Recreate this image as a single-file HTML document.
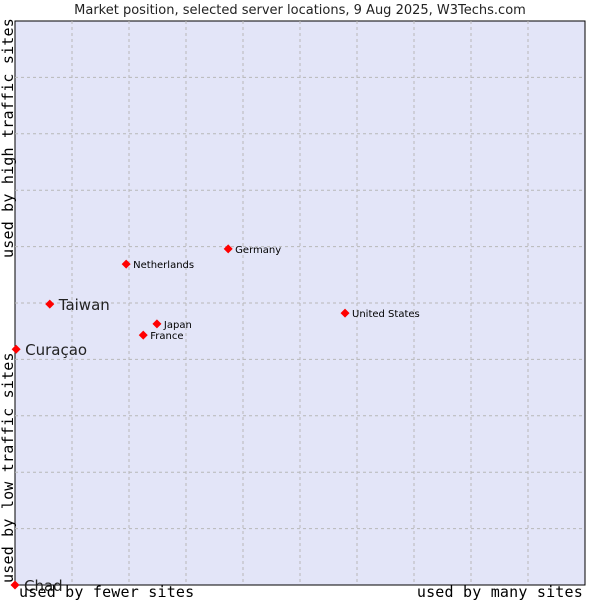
<!DOCTYPE html>
<html><head><meta charset="utf-8"><style>
body{margin:0;background:#fff;}
svg text{font-family:"DejaVu Sans","Liberation Sans",sans-serif;}
.mono{font-family:"DejaVu Sans Mono","Liberation Mono",monospace;letter-spacing:0.2px;}
</style></head><body>
<svg id="chart" width="600" height="600">
<text x="300" y="14" text-anchor="middle" font-size="13" fill="#222">Market position, selected server locations, 9 Aug 2025, W3Techs.com</text>
<rect x="15" y="21" width="570" height="564" fill="#e3e5f8" stroke="#000" stroke-width="1"/>
<g id="grid"></g>
<g id="points"></g>
<text class="mono" x="19" y="597" font-size="15">used by fewer sites</text>
<text class="mono" x="583" y="597" font-size="15" text-anchor="end">used by many sites</text>
<text class="mono" transform="translate(13,258) rotate(-90)" font-size="15">used by high traffic sites</text>
<text class="mono" transform="translate(13,583) rotate(-90)" font-size="15">used by low traffic sites</text>
</svg>
<script>
const names=["Chad","Curaçao","Taiwan","Netherlands","Germany","Japan","France","United States"];
const xVals=[0,0.2,6.1,19.5,37.4,24.9,22.5,57.9];
const yVals=[0,41.8,49.8,56.9,59.6,46.3,44.3,48.2];
const bigLabel=[true,true,true,false,false,false,false,false];
const L=15,T=21,W=570,H=564;
const sx=v=>L+v/100*W, sy=v=>T+H-v/100*H;
const ns="http://www.w3.org/2000/svg";
const grid=document.getElementById('grid'), pts=document.getElementById('points');
for(let i=1;i<10;i++){
  const v=document.createElementNS(ns,'line');
  
  
  v.setAttribute('x1',sx(i*10));v.setAttribute('x2',sx(i*10));v.setAttribute('y1',T);v.setAttribute('y2',T+H);
  v.setAttribute('stroke','#b8b8b8');v.setAttribute('stroke-dasharray','3,3');grid.appendChild(v);
  const h=document.createElementNS(ns,'line');
  
  
  h.setAttribute('y1',sy(i*10));h.setAttribute('y2',sy(i*10));h.setAttribute('x1',L);h.setAttribute('x2',L+W);
  h.setAttribute('stroke','#b8b8b8');h.setAttribute('stroke-dasharray','3,3');grid.appendChild(h);
}
names.forEach((n,i)=>{
  const x=sx(xVals[i]),y=sy(yVals[i]);
  const p=document.createElementNS(ns,'polygon');
  
  
  p.setAttribute('points',`${x},${y-4.5} ${x+4.5},${y} ${x},${y+4.5} ${x-4.5},${y}`);
  p.setAttribute('fill','#f00');pts.appendChild(p);
  const t=document.createElementNS(ns,'text');
  
  
  const big=bigLabel[i];
  t.setAttribute('x',x+(big?9:7));t.setAttribute('y',y+(big?6:4));
  t.setAttribute('font-size',big?15:10);t.setAttribute('fill',big?'#222':'#000');
  t.textContent=n;pts.appendChild(t);
});
</script>
</body></html>
